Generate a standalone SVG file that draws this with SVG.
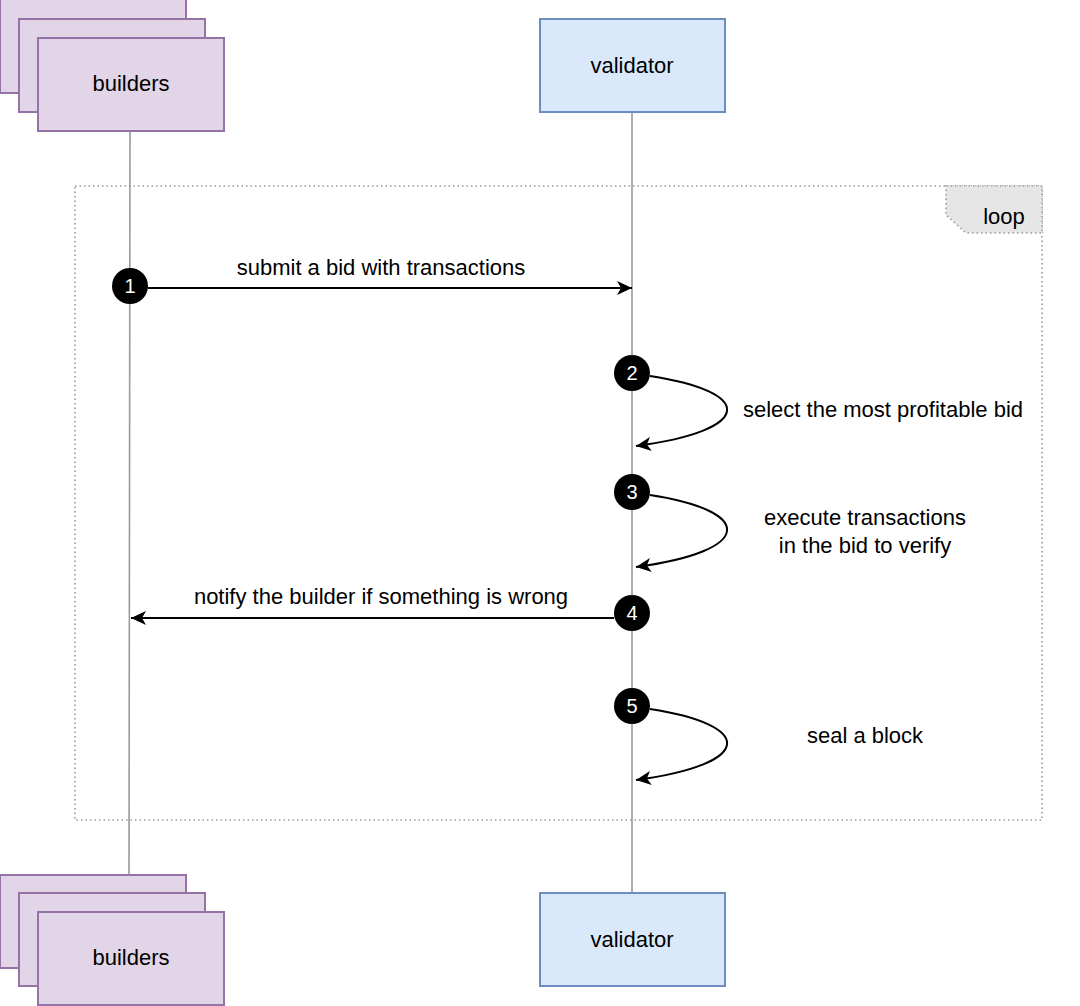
<svg xmlns="http://www.w3.org/2000/svg" width="1080" height="1006" viewBox="0 0 1080 1006">
<defs>
<style>
.bld{fill:#e1d5e7;stroke:#9673a6;stroke-width:2}
.val{fill:#dae8fc;stroke:#6c8ebf;stroke-width:2}
.life{stroke:#999;stroke-width:1.6;fill:none}
.msg{stroke:#000;stroke-width:2;fill:none}
.lbl{font-family:"Liberation Sans",Arial,sans-serif;font-size:22px;fill:#000;text-anchor:middle}
.nlbl{font-family:"Liberation Sans",Arial,sans-serif;font-size:22px;fill:#000;text-anchor:middle}
.num{font-family:"Liberation Sans",Arial,sans-serif;font-size:20px;fill:#fff;text-anchor:middle}
.dot{fill:#000}
</style>
<marker id="arr" markerUnits="userSpaceOnUse" markerWidth="16" markerHeight="14" refX="15" refY="7" orient="auto">
<path d="M0,0 L15,7 L0,14 L4,7 z" fill="#000"/>
</marker>
</defs>
<rect x="0" y="0" width="1080" height="1006" fill="#fff"/>

<g id="loop">
<rect x="75" y="186" width="967" height="634" fill="none" stroke="#999" stroke-width="1.6" stroke-dasharray="1.5 3"/>
<path d="M946,186 L1042,186 L1042,233 L966,233 L946,215 z" fill="#e6e6e6" stroke="#999" stroke-width="1.6" stroke-dasharray="1.5 3"/>
<text x="1004" y="224" class="lbl">loop</text>
</g>

<g id="lifelines">
<line x1="130" y1="131" x2="129" y2="875" class="life"/>
<line x1="632" y1="112" x2="632" y2="893" class="life"/>
</g>

<g id="builders-top">
<rect x="0" y="-1" width="186" height="94" class="bld"/>
<rect x="19" y="19" width="186" height="93" class="bld"/>
<rect x="38" y="38" width="186" height="93" class="bld"/>
<text x="131" y="91" class="nlbl">builders</text>
</g>

<g id="validator-top">
<rect x="540" y="19" width="185" height="93" class="val"/>
<text x="632" y="73" class="nlbl">validator</text>
</g>

<g id="builders-bottom">
<rect x="0" y="875" width="186" height="93" class="bld"/>
<rect x="19" y="893" width="186" height="93" class="bld"/>
<rect x="38" y="912" width="186" height="93" class="bld"/>
<text x="131" y="965" class="nlbl">builders</text>
</g>

<g id="validator-bottom">
<rect x="540" y="893" width="185" height="93" class="val"/>
<text x="632" y="947" class="nlbl">validator</text>
</g>

<g id="connectors">
<line x1="148" y1="288" x2="632" y2="288" class="msg" marker-end="url(#arr)"/>
<path d="M650,376 C755,392 755,430 636,446" class="msg" marker-end="url(#arr)"/>
<path d="M650,495 C755,511 755,551 636,567" class="msg" marker-end="url(#arr)"/>
<line x1="614" y1="618" x2="131" y2="618" class="msg" marker-end="url(#arr)"/>
<path d="M650,709 C755,725 755,764 636,780" class="msg" marker-end="url(#arr)"/>
</g>

<g id="labels">
<text x="381" y="275" class="lbl">submit a bid with transactions</text>
<text x="883" y="417" class="lbl">select the most profitable bid</text>
<text x="865" y="525" class="lbl">execute transactions</text>
<text x="865" y="553" class="lbl">in the bid to verify</text>
<text x="381" y="604" class="lbl">notify the builder if something is wrong</text>
<text x="865" y="743" class="lbl">seal a block</text>
</g>

<g id="step1"><circle cx="130" cy="286" r="18" class="dot"/><text x="130" y="293" class="num">1</text></g>
<g id="step2"><circle cx="632" cy="373" r="18" class="dot"/><text x="632" y="380" class="num">2</text></g>
<g id="step3"><circle cx="632" cy="492" r="18" class="dot"/><text x="632" y="499" class="num">3</text></g>
<g id="step4"><circle cx="632" cy="613" r="18" class="dot"/><text x="632" y="620" class="num">4</text></g>
<g id="step5"><circle cx="632" cy="706" r="18" class="dot"/><text x="632" y="713" class="num">5</text></g>
</svg>
